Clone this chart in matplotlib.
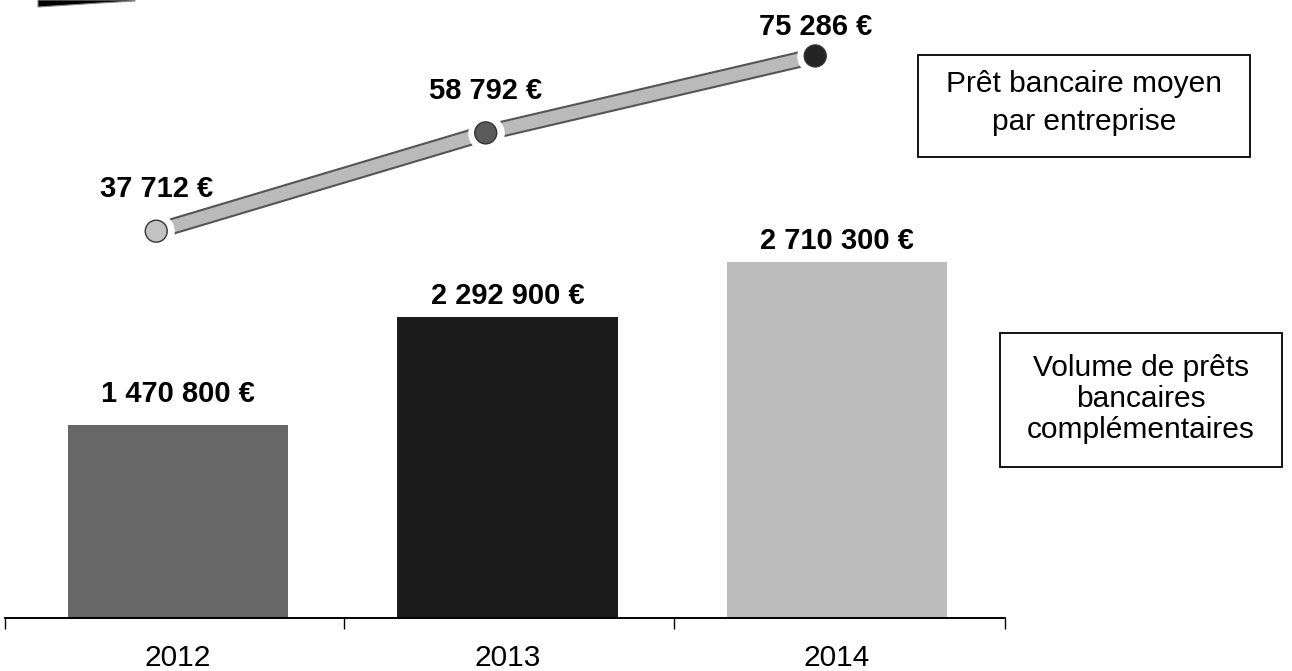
import matplotlib
matplotlib.use("Agg")
import matplotlib.pyplot as plt
import matplotlib.patheffects as pe
from matplotlib.patches import Rectangle, Polygon

plt.rcParams['font.family'] = ['Liberation Sans', 'DejaVu Sans']

# Data
years = ["2012", "2013", "2014"]
volume = [1470800, 2292900, 2710300]
avg_loan = [37712, 58792, 75286]
volume_labels = ["1 470 800 €", "2 292 900 €", "2 710 300 €"]
avg_labels = ["37 712 €", "58 792 €", "75 286 €"]
avg_legend = "Prêt bancaire moyen\npar entreprise"
volume_legend = "Volume de prêts\nbancaires\ncomplémentaires"

# Styling
bar_colors = ["#676767", "#1c1c1c", "#bcbcbc"]
marker_colors = ["#c2c2c2", "#5a5a5a", "#242424"]
volume_label_pad = [12, 5, 5]      # points above each bar
avg_label_pad = [20, 20, 11]       # points above each marker
line_shift = -0.066                # line series sits slightly left of bar centres

W, H = 1292, 671
fig = plt.figure(figsize=(W / 100, H / 100), dpi=100)
fig.patch.set_facecolor("white")

# Bars: volume of complementary bank loans
ax = fig.add_axes([5 / W, 53 / H, 1000 / W, 618 / H])
x = list(range(len(years)))
ax.bar(x, volume, width=0.668, color=bar_colors, zorder=2)
ax.set_xlim(-0.525, 2.51)
ax.set_ylim(0, 4.70e6)
for s in ("top", "right", "left"):
    ax.spines[s].set_visible(False)
ax.spines["bottom"].set_linewidth(1.4)
ax.set_yticks([])
ax.set_xticks([-0.525, 0.505, 1.505, 2.51])
ax.set_xticklabels([])
ax.tick_params(axis="x", which="major", direction="out", length=8.0, width=1.0)
ax.set_xticks(x, minor=True)
ax.set_xticklabels(years, minor=True, fontsize=21.5)
ax.tick_params(axis="x", which="minor", length=0, pad=19)

for xi, v, lbl, pad in zip(x, volume, volume_labels, volume_label_pad):
    ax.annotate(lbl, (xi, v), xytext=(0, pad), textcoords="offset points",
                ha="center", va="bottom", fontsize=21, fontweight="bold")

# Line: average loan per company
ax2 = ax.twinx()
ax2.set_ylim(-45233, 87283)
ax2.axis("off")
xl = [xi + line_shift for xi in x]
ax2.plot(xl, avg_loan, color="#bababa", lw=9, solid_capstyle="butt", zorder=2,
         path_effects=[pe.Stroke(linewidth=12, foreground="#555555"), pe.Normal()])
ax2.scatter(xl, avg_loan, s=640, color="white", zorder=3)
ax2.scatter(xl, avg_loan, s=250, color=marker_colors, edgecolors="#333333",
            linewidths=1.0, zorder=4)
for xi, v, lbl, pad in zip(xl, avg_loan, avg_labels, avg_label_pad):
    ax2.annotate(lbl, (xi, v), xytext=(0, pad), textcoords="offset points",
                 ha="center", va="bottom", fontsize=21, fontweight="bold")

# Legend boxes
fig.add_artist(Rectangle((918 / W, 1 - 157 / H), 332 / W, 102 / H,
                         transform=fig.transFigure, fill=False, ec="black", lw=1.3))
fig.text(1084 / W, 1 - 103 / H, avg_legend, ha="center", va="center",
         fontsize=21.5, linespacing=1.5)
fig.add_artist(Rectangle((1000 / W, 1 - 467 / H), 282 / W, 134 / H,
                         transform=fig.transFigure, fill=False, ec="black", lw=1.3))
fig.text(1141 / W, 1 - 399 / H, volume_legend, ha="center", va="center",
         fontsize=21.5, linespacing=1.15)

# Dark title tab cut off at the top-left corner
fig.add_artist(Polygon([(38 / W, 1), (135 / W, 1), (135 / W, 1 - 1 / H),
                        (100 / W, 1 - 3 / H), (38 / W, 1 - 7 / H)],
                       closed=True, transform=fig.transFigure,
                       fc="black", ec="#888888", lw=0.8))

fig.savefig("out.png", dpi=100)
